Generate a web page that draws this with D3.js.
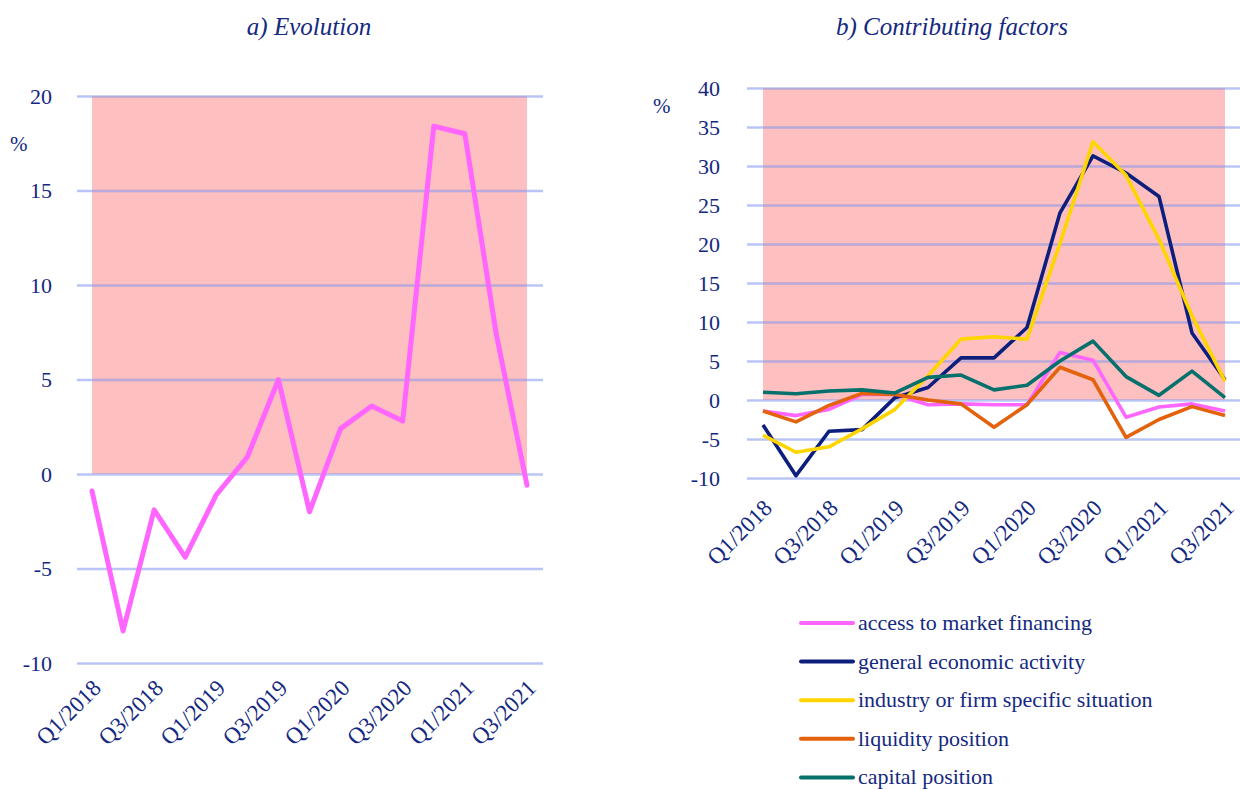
<!DOCTYPE html>
<html>
<head>
<meta charset="utf-8">
<script src="https://cdnjs.cloudflare.com/ajax/libs/d3/7.8.5/d3.min.js"></script>
<style>
  body { margin: 0; background: #fff; }
  svg text { font-family: "Liberation Serif", "DejaVu Serif", serif; fill: #14297f; }
  .title { font-style: italic; font-size: 25px; }
  .tick-y { font-size: 22px; }
  .tick-x { font-size: 23px; }
  .legend text { font-size: 22px; }
</style>
</head>
<body>
<svg width="1240" height="789"></svg>
<script>
// quarters, Q1/2018 .. Q3/2021
var quarters = ["Q1/2018","Q2/2018","Q3/2018","Q4/2018","Q1/2019","Q2/2019","Q3/2019","Q4/2019",
                "Q1/2020","Q2/2020","Q3/2020","Q4/2020","Q1/2021","Q2/2021","Q3/2021"];
var xLabels = ["Q1/2018","Q3/2018","Q1/2019","Q3/2019","Q1/2020","Q3/2020","Q1/2021","Q3/2021"];

// a) evolution
var evolution = [-0.9, -8.3, -1.9, -4.4, -1.1, 0.9, 5.0, -2.0, 2.4, 3.6, 2.8, 18.4, 18.0, 7.5, -0.6];
var leftTicks = [-10, -5, 0, 5, 10, 15, 20];

// b) contributing factors
var seriesNames = ["access to market financing", "general economic activity",
                   "industry or firm specific situation", "liquidity position", "capital position"];
var seriesColors = ["#ff66ff", "#0d1f7c", "#ffd500", "#e4620c", "#05706c"];
var accessMarket = [-1.4, -2.0, -1.2, 0.7, 0.7, -0.6, -0.5, -0.6, -0.6, 6.1, 5.1, -2.2, -0.9, -0.5, -1.4];
var generalActivity = [-3.2, -9.7, -4.0, -3.8, 0.3, 1.6, 5.4, 5.4, 9.3, 24.0, 31.3, 29.1, 26.1, 8.6, 2.6];
var industrySpecific = [-4.5, -6.7, -6.0, -3.7, -1.2, 3.1, 7.8, 8.1, 7.8, 20.1, 33.1, 28.8, 20.6, 10.8, 2.4];
var liquidity = [-1.4, -2.8, -0.7, 0.85, 0.7, 0.0, -0.5, -3.5, -0.6, 4.2, 2.6, -4.8, -2.5, -0.85, -2.0];
var capital = [1.0, 0.8, 1.15, 1.3, 0.9, 2.9, 3.2, 1.3, 1.9, 5.0, 7.55, 3.0, 0.6, 3.7, 0.3];
var rightTicks = [-10, -5, 0, 5, 10, 15, 20, 25, 30, 35, 40];

var svg = d3.select("svg");

function panel(opt) {
  var x = d3.scalePoint().domain(quarters).range(opt.xRange);
  var y = d3.scaleLinear().domain(opt.yDomain).range(opt.yRange);
  var g = svg.append("g");

  // shaded positive area
  g.append("rect")
    .attr("x", x(quarters[0]))
    .attr("y", y(opt.yDomain[1]))
    .attr("width", x(quarters[quarters.length - 1]) - x(quarters[0]))
    .attr("height", y(0) - y(opt.yDomain[1]))
    .attr("fill", "#fdbfbf");

  // grid
  var grid = g.append("g")
    .attr("transform", "translate(" + opt.gridX[1] + ",0)")
    .call(d3.axisLeft(y).tickValues(opt.ticks).tickSize(opt.gridX[1] - opt.gridX[0]).tickFormat(""));
  grid.select(".domain").remove();
  grid.selectAll("line").attr("stroke", "rgba(130,150,240,0.55)").attr("stroke-width", 2.5);

  // y labels (plain hyphen for negatives)
  var yl = g.append("g")
    .attr("transform", "translate(" + opt.yLabelX + ",0)")
    .call(d3.axisLeft(y).tickValues(opt.ticks).tickSize(0).tickPadding(0)
      .tickFormat(function (d) { return String(d); }));
  yl.select(".domain").remove();
  yl.selectAll("text").attr("class", "tick-y").attr("fill", "#14297f").attr("dy", "0.32em");

  // x labels
  var xl = g.append("g")
    .attr("transform", "translate(0," + opt.xLabelY + ")")
    .call(d3.axisBottom(x).tickValues(xLabels).tickSize(0).tickPadding(0));
  xl.select(".domain").remove();
  xl.selectAll("text")
    .attr("class", "tick-x")
    .attr("fill", "#14297f")
    .attr("text-anchor", "end")
    .attr("y", 0).attr("dy", "0.35em").attr("x", 6)
    .attr("transform", "rotate(-45)");

  // title and unit
  svg.append("text").attr("class", "title")
    .attr("x", opt.titleX).attr("y", 35).attr("text-anchor", "middle").text(opt.title);
  svg.append("text").attr("x", opt.pctX).attr("y", opt.pctY).attr("font-size", 21).text("%");

  return { g: g, x: x, y: y };
}

var left = panel({
  xRange: [92, 527], yDomain: [-10, 20], yRange: [663, 96],
  gridX: [77, 543], ticks: leftTicks, yLabelX: 52, xLabelY: 688,
  title: "a) Evolution", titleX: 309, pctX: 10, pctY: 151
});
left.g.append("path")
  .datum(evolution)
  .attr("fill", "none").attr("stroke", "#ff66ff").attr("stroke-width", 5)
  .attr("stroke-linejoin", "round").attr("stroke-linecap", "round")
  .attr("d", d3.line().x(function (d, i) { return left.x(quarters[i]); }).y(function (d) { return left.y(d); }));

var right = panel({
  xRange: [763, 1225], yDomain: [-10, 40], yRange: [478, 88],
  gridX: [747, 1240], ticks: rightTicks, yLabelX: 720, xLabelY: 508,
  title: "b) Contributing factors", titleX: 952, pctX: 653, pctY: 113
});
var series = [accessMarket, generalActivity, industrySpecific, liquidity, capital];
var line = d3.line().x(function (d, i) { return right.x(quarters[i]); }).y(function (d) { return right.y(d); });
series.forEach(function (s, k) {
  right.g.append("path")
    .datum(s)
    .attr("fill", "none").attr("stroke", seriesColors[k]).attr("stroke-width", 3.6)
    .attr("stroke-linejoin", "round")
    .attr("d", line);
});

// legend
var legend = svg.append("g").attr("class", "legend");
seriesNames.forEach(function (name, k) {
  var yy = 623 + k * 38.6;
  legend.append("line")
    .attr("x1", 801).attr("x2", 853).attr("y1", yy).attr("y2", yy)
    .attr("stroke", seriesColors[k]).attr("stroke-width", 4).attr("stroke-linecap", "round");
  legend.append("text").attr("x", 858).attr("y", yy).attr("dy", "0.32em").text(name);
});
</script>
</body>
</html>
